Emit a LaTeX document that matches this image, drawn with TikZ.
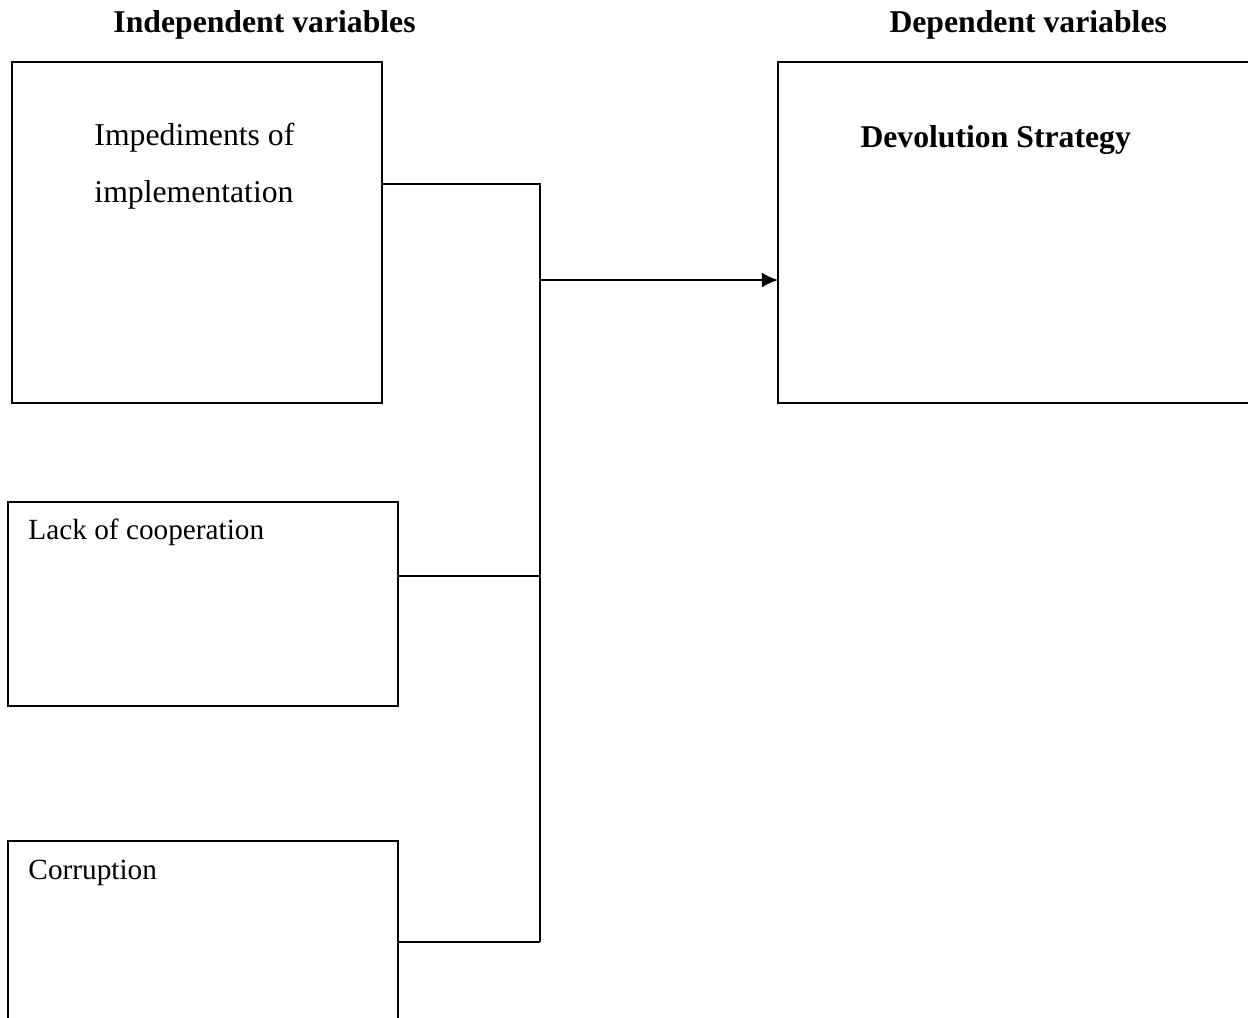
\documentclass[tikz,border=0pt]{standalone}
\usepackage{fontspec}
\setmainfont{Liberation Serif}
\usetikzlibrary{arrows.meta,positioning}

\def\pxlen{0.41pt}
\tikzset{
	varbox/.style={draw,line width=0.6pt,inner sep=0pt,outer sep=0pt,anchor=north west},
	vartext/.style={font=\fontsize{12}{14}\selectfont,inner sep=0pt,anchor=base west},
	bigtext/.style={vartext,font=\fontsize{13}{15}\selectfont},
	headtext/.style={vartext,font=\fontsize{13}{15}\selectfont\bfseries},
	link/.style={line width=0.6pt},
}

\begin{document}
\begin{tikzpicture}[x=0.41pt,y=-0.41pt]
	\useasboundingbox (0,0) rectangle (1248,1017);
	\clip (0,0) rectangle (1248,1017);

	% headings
	\node[headtext] (indep) at (113,32) {Independent variables};
	\node[headtext] (dep) at (889,32) {Dependent variables};

	% boxes
	\node[varbox,minimum width=370*\pxlen,minimum height=341*\pxlen] (impbox) at (12,62) {};
	\node[varbox,minimum width=390*\pxlen,minimum height=204*\pxlen] (lackbox) at (8,502) {};
	\node[varbox,minimum width=390*\pxlen,minimum height=260*\pxlen] (corrbox) at (8,841) {};
	\node[varbox,minimum width=520*\pxlen,minimum height=341*\pxlen] (devbox) at (778,62) {};

	\node[bigtext] (imptxt) at (94,145) {Impediments of};
	\node[bigtext] (imptxtb) at (94,202) {implementation};
	\node[vartext] (lacktxt) at (28,539) {Lack of cooperation};
	\node[vartext] (corrtxt) at (28,879) {Corruption};
	\node[headtext] (devtxt) at (860,147) {Devolution Strategy};

	% connectors
	\coordinate (jtop) at (540,184);
	\coordinate (jmid) at (540,576);
	\coordinate (jbot) at (540,942);
	\coordinate (jarr) at (540,280);
	\draw[link] (impbox.east |- jtop) -- (jtop) -- (jbot);
	\draw[link] (lackbox.east |- jmid) -- (jmid);
	\draw[link] (corrbox.east |- jbot) -- (jbot);
	\draw[link,line width=0.9pt,-{Latex[length=6.6pt,width=6.2pt]}] (jarr) -- (devbox.west |- jarr);
\end{tikzpicture}
\end{document}
